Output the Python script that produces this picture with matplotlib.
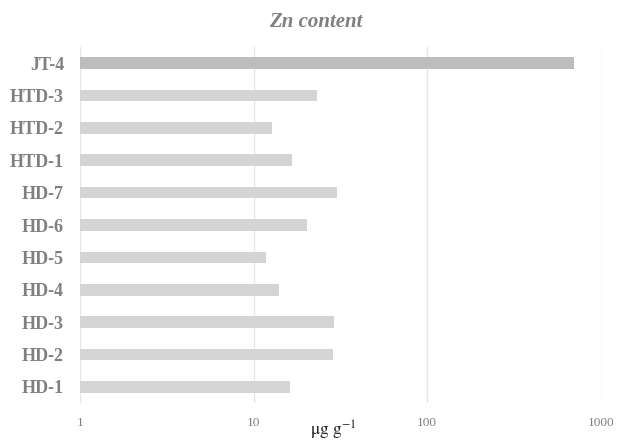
import matplotlib.pyplot as plt
from matplotlib.ticker import FixedLocator, NullLocator

# --- Data ---
samples = ['HD-1', 'HD-2', 'HD-3', 'HD-4', 'HD-5', 'HD-6', 'HD-7',
           'HTD-1', 'HTD-2', 'HTD-3', 'JT-4']
zn = [16.2, 28.6, 29.2, 14.0, 11.8, 20.3, 30.2, 16.7, 12.8, 23.1, 700]
tick_vals = [1, 10, 100, 1000]
tick_labels = ['1', '10', '100', '1000']

plt.rcParams['font.family'] = ['Liberation Serif', 'DejaVu Serif']
plt.rcParams['mathtext.fontset'] = 'stix'

fig = plt.figure(figsize=(6.17, 4.43), dpi=100)
ax = fig.add_axes([80 / 617, 1 - 403 / 443, (600.7 - 80) / 617, 356 / 443])

colors = ['#d4d4d4'] * (len(samples) - 1) + ['#bdbdbd']
ax.barh(range(len(samples)), [v - 1 for v in zn], left=1, height=0.36,
        color=colors, zorder=2)

ax.set_xscale('log')
ax.set_xlim(1, 1000)
ax.set_ylim(-0.5, len(samples) - 0.5)
ax.xaxis.set_major_locator(FixedLocator(tick_vals))
ax.xaxis.set_minor_locator(NullLocator())
ax.set_xticklabels(tick_labels)
ax.set_yticks(range(len(samples)))
ax.set_yticklabels(samples, fontweight='bold', fontsize=13, color='#7f7f7f')
ax.tick_params(axis='x', length=0, labelsize=9.5, labelcolor='#7f7f7f', pad=10)
ax.tick_params(axis='y', length=0, pad=11.5)

ax.grid(axis='x', color='#e6e6e6', linewidth=1, zorder=0)
for s in ax.spines.values():
    s.set_visible(False)

ax.set_xlabel(r'$\mathrm{\mu g\ g^{-1}}$', fontsize=12.5, color='#222222',
              va='center')
ax.xaxis.set_label_coords(0.486, -0.078)

fig.text(316 / 617, 1 - 22 / 443, 'Zn content', ha='center', va='center',
         fontsize=15, fontweight='bold', fontstyle='italic', color='#7f7f7f')

fig.savefig('out.png', dpi=100)
